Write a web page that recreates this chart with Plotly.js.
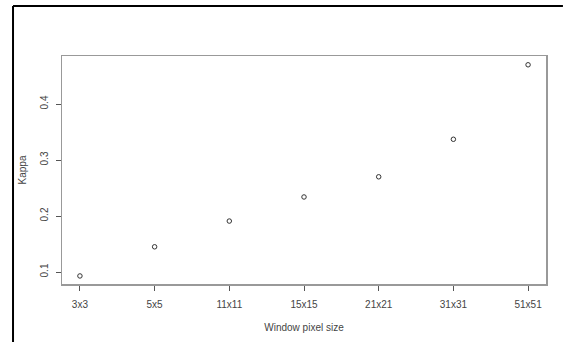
<!DOCTYPE html>
<html><head><meta charset="utf-8">
<script src="https://cdn.plot.ly/plotly-3.0.1.min.js"></script>
<style>html,body{margin:0;padding:0;background:#fff;}#chart{width:568px;height:342px;}</style>
</head><body><div id="chart"></div>
<script>
const categories = ["3x3","5x5","11x11","15x15","21x21","31x31","51x51"];
const kappa = [0.093, 0.145, 0.191, 0.234, 0.270, 0.337, 0.470];
const yTicks = [0.1, 0.2, 0.3, 0.4];
const yTickLabels = ["0.1","0.2","0.3","0.4"];

const font = {family: "Liberation Sans, Arial, sans-serif", size: 10, color: "#444"};
const trace = {
  x: categories, y: kappa, type: "scatter", mode: "markers",
  marker: {symbol: "circle-open", size: 4.5, color: "#333", line: {width: 1, color: "#333"}},
  hoverinfo: "none"
};
const layout = {
  width: 568, height: 342,
  margin: {l: 62, r: 22, t: 56, b: 58, pad: 0},
  paper_bgcolor: "#fff", plot_bgcolor: "#fff",
  showlegend: false,
  font: font,
  xaxis: {
    type: "category", range: [-0.24, 6.24],
    showgrid: false, zeroline: false,
    showline: true, mirror: true, linecolor: "#999", linewidth: 1.5,
    ticks: "outside", ticklen: 5, tickcolor: "#555", tickwidth: 1,
    ticklabelstandoff: 5,
    tickfont: font,
    title: {text: "Window pixel size", font: font, standoff: 15}
  },
  yaxis: {
    range: [0.0786, 0.4857],
    tickvals: yTicks, ticktext: yTickLabels, tickangle: -90,
    showgrid: false, zeroline: false,
    showline: true, mirror: true, linecolor: "#999", linewidth: 1.5,
    ticks: "outside", ticklen: 5, tickcolor: "#555", tickwidth: 1,
    ticklabelstandoff: 4,
    tickfont: font,
    title: {text: "Kappa", font: font, standoff: 10}
  },
  shapes: [
    {type: "line", xref: "paper", yref: "paper", x0: -0.1012, x1: -0.1012, y0: 1.219, y1: -0.26, line: {color: "#000", width: 2}},
    {type: "line", xref: "paper", yref: "paper", x0: -0.1012, x1: 1.035, y0: 1.219, y1: 1.219, line: {color: "#000", width: 2}}
  ]
};
Plotly.newPlot("chart", [trace], layout, {staticPlot: true, displayModeBar: false});
</script></body></html>
